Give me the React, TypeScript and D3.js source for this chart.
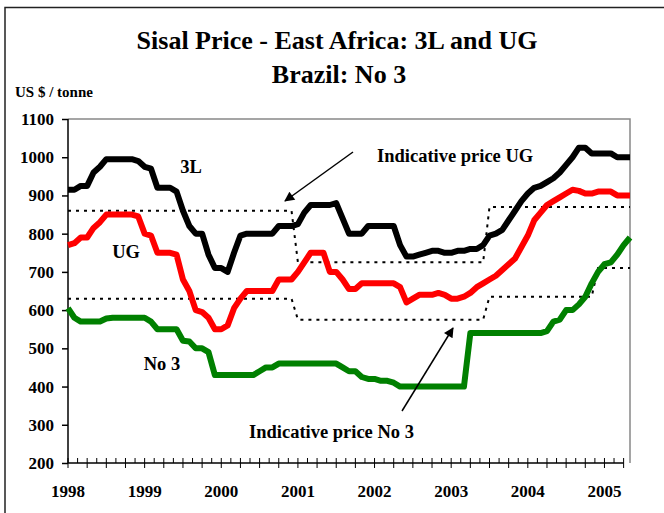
import React, { useEffect, useRef } from "react";
import * as d3 from "d3";

// monthly values, Jan 1998 (index 0) .. May 2005 (index 88)
const months = d3.range(0, 89);

const threeL = [
  915, 915, 925, 925, 960, 975, 995, 995, 995, 995, 995, 990, 975, 970, 920, 920, 920, 910, 860, 820,
  800, 800, 745, 710, 710, 700, 750, 795, 800, 800, 800, 800, 800, 820, 820, 820, 825, 855, 875, 875,
  875, 875, 880, 840, 800, 800, 800, 820, 820, 820, 820, 820, 770, 740, 740, 745, 750, 755, 755, 750,
  750, 755, 755, 760, 760, 770, 795, 800, 810, 835, 860, 885, 905, 920, 925, 935, 945, 960, 980, 1000,
  1025, 1025, 1010, 1010, 1010, 1010, 1000, 1000, 1000,
];

const ug = [
  770, 775, 790, 790, 815, 830, 850, 850, 850, 850, 850, 845, 800, 795, 750, 750, 750, 745, 680, 650,
  600, 595, 580, 550, 550, 560, 605, 630, 650, 650, 650, 650, 650, 680, 680, 680, 700, 725, 750, 750,
  750, 700, 700, 680, 655, 655, 670, 670, 670, 670, 670, 670, 660, 620, 630, 640, 640, 640, 645, 640,
  630, 630, 635, 645, 660, 670, 680, 690, 705, 720, 735, 765, 795, 835, 855, 875, 885, 895, 905, 915,
  912, 905, 905, 910, 910, 910, 900, 900, 900,
];

const no3 = [
  605, 580, 570, 570, 570, 570, 578, 580, 580, 580, 580, 580, 580, 570, 550, 550, 550, 550, 520, 518,
  500, 500, 490, 430, 430, 430, 430, 430, 430, 430, 440, 450, 450, 460, 460, 460, 460, 460, 460, 460,
  460, 460, 460, 450, 440, 440, 425, 420, 420, 415, 415, 410, 400, 400, 400, 400, 400, 400, 400, 400,
  400, 400, 400, 540, 540, 540, 540, 540, 540, 540, 540, 540, 540, 540, 540, 545, 570, 575, 600, 600,
  615, 635, 670, 700, 720, 725, 745, 770, 790,
];

// indicative prices (month, value) step points
const indicativeUG: [number, number][] = [
  [0, 860], [35, 860], [36, 725], [65, 725], [66, 870], [88, 870],
];
const indicativeNo3: [number, number][] = [
  [0, 630], [35, 630], [36, 575], [65, 575], [66, 635], [82, 635], [83, 710], [88, 710],
];

const yTicks = d3.range(200, 1101, 100);
const years = ["1998", "1999", "2000", "2001", "2002", "2003", "2004", "2005"];
const tickMonths = d3.range(0, 88, 1.5);

const seriesList = [
  { name: "3L", values: threeL, color: "#000000" },
  { name: "UG", values: ug, color: "#ff0000" },
  { name: "No 3", values: no3, color: "#008000" },
];

const FONT = "'Liberation Serif', 'Times New Roman', serif";

function App() {
  const svgRef = useRef<SVGSVGElement>(null);

  useEffect(() => {
    const width = 664;
    const height = 513;
    const margin = { top: 119, right: 34, bottom: 50, left: 68 };

    const svg = d3.select(svgRef.current);
    svg.selectAll("*").remove();

    svg.append("rect").attr("width", width).attr("height", height).attr("fill", "#fff");

    // outer frame (top and left visible)
    svg
      .append("path")
      .attr("d", `M5,${height} V7.5 H${width}`)
      .attr("fill", "none")
      .attr("stroke", "#222")
      .attr("stroke-width", 1.5);

    const x = d3.scaleLinear().domain([0, 88]).range([margin.left, width - margin.right]);
    const y = d3.scaleLinear().domain([200, 1100]).range([height - margin.bottom, margin.top]);

    // titles
    svg
      .append("text")
      .attr("x", 337)
      .attr("y", 49)
      .attr("text-anchor", "middle")
      .attr("font-family", FONT)
      .attr("font-weight", "bold")
      .attr("font-size", 26)
      .text("Sisal Price - East Africa: 3L and UG");
    svg
      .append("text")
      .attr("x", 339)
      .attr("y", 83)
      .attr("text-anchor", "middle")
      .attr("font-family", FONT)
      .attr("font-weight", "bold")
      .attr("font-size", 26)
      .text("Brazil: No 3");
    svg
      .append("text")
      .attr("x", 15)
      .attr("y", 97)
      .attr("font-family", FONT)
      .attr("font-weight", "bold")
      .attr("font-size", 15)
      .text("US $ / tonne");

    // plot area border (grey top and right)
    svg
      .append("path")
      .attr("d", `M${x(0)},${y(1100)} H${x(88)} V${y(200)}`)
      .attr("fill", "none")
      .attr("stroke", "#888")
      .attr("stroke-width", 1.5);

    // y axis
    const yAxis = svg
      .append("g")
      .attr("transform", `translate(${x(0)},0)`)
      .call(d3.axisLeft(y).tickValues(yTicks).tickSize(6).tickPadding(8).tickFormat(d3.format("d")));
    yAxis.select(".domain").attr("stroke-width", 1.5).attr("d", `M0,${y(200)}V${y(1100)}`);
    yAxis.selectAll("line").attr("stroke-width", 1.5);
    yAxis
      .selectAll("text")
      .attr("font-family", FONT)
      .attr("font-weight", "bold")
      .attr("font-size", 17)
      .attr("fill", "#000");

    // x axis
    const xAxis = svg.append("g").attr("transform", `translate(0,${y(200)})`);
    xAxis
      .append("line")
      .attr("x1", x(0))
      .attr("x2", x(87))
      .attr("stroke", "#000")
      .attr("stroke-width", 1.5);
    xAxis
      .selectAll("line.tick")
      .data(tickMonths)
      .join("line")
      .attr("class", "tick")
      .attr("x1", (d) => x(d))
      .attr("x2", (d) => x(d))
      .attr("y1", -5)
      .attr("y2", (d) => (d % 3 === 0 ? 5 : 0))
      .attr("stroke", "#000")
      .attr("stroke-width", 1);
    xAxis
      .selectAll("text")
      .data(years)
      .join("text")
      .attr("x", (_, i) => x(i * 12))
      .attr("y", 34)
      .attr("text-anchor", "middle")
      .attr("font-family", FONT)
      .attr("font-weight", "bold")
      .attr("font-size", 17)
      .text((d) => d);

    // indicative price lines
    const stepLine = d3
      .line<[number, number]>()
      .x((d) => x(d[0]))
      .y((d) => y(d[1]));
    [indicativeUG, indicativeNo3].forEach((pts) => {
      svg
        .append("path")
        .attr("d", stepLine(pts))
        .attr("fill", "none")
        .attr("stroke", "#000")
        .attr("stroke-width", 2)
        .attr("stroke-dasharray", "3 5");
    });

    // price series
    const line = d3
      .line<number>()
      .x((_, i) => x(months[i]))
      .y((d) => y(d));
    seriesList.forEach((s) => {
      svg
        .append("path")
        .attr("d", line(s.values))
        .attr("fill", "none")
        .attr("stroke", s.color)
        .attr("stroke-width", 6)
        .attr("stroke-linejoin", "round");
    });

    // labels
    const labels = [
      { text: "3L", x: 191, y: 173, anchor: "middle" },
      { text: "UG", x: 126, y: 258, anchor: "middle" },
      { text: "No 3", x: 162, y: 370, anchor: "middle" },
      { text: "Indicative price UG", x: 377, y: 162, anchor: "start" },
      { text: "Indicative price No 3", x: 249, y: 438, anchor: "start" },
    ];
    svg
      .append("g")
      .selectAll("text")
      .data(labels)
      .join("text")
      .attr("x", (d) => d.x)
      .attr("y", (d) => d.y)
      .attr("text-anchor", (d) => d.anchor)
      .attr("font-family", FONT)
      .attr("font-weight", "bold")
      .attr("font-size", 18.5)
      .text((d) => d.text);

    // arrows
    svg
      .append("defs")
      .append("marker")
      .attr("id", "arrow")
      .attr("viewBox", "0 0 10 10")
      .attr("refX", 9)
      .attr("refY", 5)
      .attr("markerWidth", 14)
      .attr("markerHeight", 10)
      .attr("markerUnits", "userSpaceOnUse")
      .attr("orient", "auto")
      .append("path")
      .attr("d", "M0,0 L10,5 L0,10 Z")
      .attr("fill", "#000");

    const arrows = [
      { x1: 353, y1: 152, x2: 285, y2: 201 },
      { x1: 402, y1: 411, x2: 453, y2: 328 },
    ];
    svg
      .append("g")
      .selectAll("line")
      .data(arrows)
      .join("line")
      .attr("x1", (d) => d.x1)
      .attr("y1", (d) => d.y1)
      .attr("x2", (d) => d.x2)
      .attr("y2", (d) => d.y2)
      .attr("stroke", "#000")
      .attr("stroke-width", 1.5)
      .attr("marker-end", "url(#arrow)");
  }, []);

  return (
    <svg
      ref={svgRef}
      width={664}
      height={513}
      style={{ position: "absolute", left: 0, top: 0, display: "block" }}
    />
  );
}

export default App;
